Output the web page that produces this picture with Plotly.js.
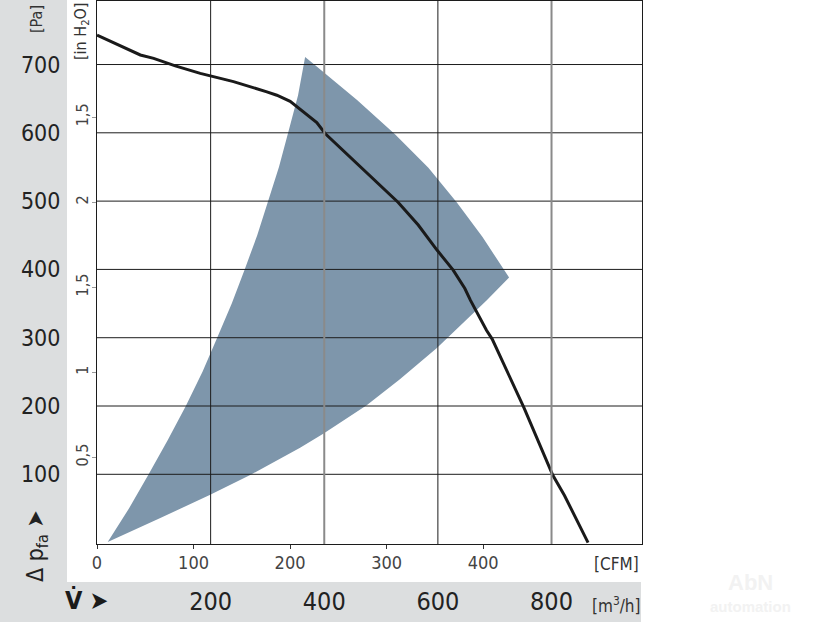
<!DOCTYPE html>
<html><head><meta charset="utf-8">
<script src="https://cdn.plot.ly/plotly-3.0.1.min.js"></script>
<style>html,body{margin:0;padding:0;background:#fff}#chart{width:816px;height:624px}</style>
</head><body><div id="chart"></div>
<script>
// ---- data ----
const curveCFM = [0, 44.9, 58.7, 81.1, 107.0, 141.4, 176.0, 186.3, 200.1, 213.8, 227.7, 236.3, 262.1, 288.0, 312.1, 332.8, 352.4, 369.0, 381.1, 386.8, 403.5, 409.4, 442.5, 472.1, 484.3, 508.7];
const curvePa  = [743, 714, 709, 698, 687, 675, 660, 655, 646, 631, 615, 599, 565, 531, 498, 465, 428, 399, 372, 355, 311, 298, 197, 99, 69, 0];

// operating zone outline: left edge up, upper-right edge down, lower edge back
const zoneCFM = [11.1, 33.1, 53.5, 73.2, 92.0, 109.3, 124.5, 139.6, 153.0, 166.0, 177.3, 188.5, 198.0, 208.3, 215.6,
                 227.0, 269.4, 308.7, 343.3, 372.8, 399.2, 422.0, 426.9,
                 403.8, 375.9, 352.1, 313.8, 279.4, 235.2, 210.4, 158.7, 117.3, 65.6, 11.1];
const zonePa  = [1, 50, 100, 150, 200, 250, 300, 350, 400, 450, 500, 550, 600, 655, 711,
                 698, 648, 598, 549, 498, 448, 399, 388,
                 355, 317, 285, 239, 201, 160, 139, 99, 70, 36, 1];

const paTicks = [100, 200, 300, 400, 500, 600, 700];
const inH2OTicks = [0.5, 1, 1.5, 2, 2.5];
const inH2OLabels = ["0,5", "1", "1,5", "2", "1,5"];
const cfmTicks = [0, 100, 200, 300, 400];
const m3hTicks = [200, 400, 600, 800];
const m3hDarkLines = [200, 600];
const m3hLightLines = [400, 800];

const PA_PER_INH2O = 249.09;
const M3H_PER_CFM = 1.699;
const xRange = [0, 564.6];
const yRange = [-2.05, 793];

// ---- layout helpers ----
const W = 816, H = 624;
const M = {l: 97, r: 174, t: 1, b: 80};
const PW = W - M.l - M.r, PH = H - M.t - M.b;
const px = v => (v - M.l) / PW;
const py = v => (M.t + PH - v) / PH;
const FONT = '"Liberation Sans Narrow", "DejaVu Sans Condensed", "Liberation Sans", Arial, sans-serif';
const GRID = '#1c1c1c';

const traces = [
  {x: zoneCFM, y: zonePa, mode: 'lines', fill: 'toself', fillcolor: '#7e96ab',
   line: {width: 0, color: '#7e96ab'}, hoverinfo: 'skip'},
  {x: curveCFM, y: curvePa, mode: 'lines', line: {color: '#1a1a1a', width: 3}, hoverinfo: 'skip'},
  {x: xRange.map(v => v * M3H_PER_CFM), y: yRange.map(v => v / PA_PER_INH2O), xaxis: 'x2', yaxis: 'y2',
   mode: 'markers', marker: {opacity: 0}, hoverinfo: 'skip'}
];

const shapes = [
  {type: 'rect', xref: 'paper', yref: 'paper', x0: px(0), x1: px(67), y0: py(582), y1: py(0),
   fillcolor: '#dcdedf', line: {width: 0}, layer: 'below'},
  {type: 'rect', xref: 'paper', yref: 'paper', x0: px(0), x1: px(641), y0: py(622), y1: py(582),
   fillcolor: '#dcdedf', line: {width: 0}, layer: 'below'}
];
paTicks.forEach(v => shapes.push({type: 'line', xref: 'paper', yref: 'y', x0: 0, x1: 1, y0: v, y1: v,
  line: {color: GRID, width: 1}, layer: 'above'}));
m3hDarkLines.forEach(v => shapes.push({type: 'line', xref: 'x2', yref: 'paper', x0: v, x1: v, y0: 0, y1: 1,
  line: {color: GRID, width: 1}, layer: 'above'}));
m3hLightLines.forEach(v => shapes.push({type: 'line', xref: 'x2', yref: 'paper', x0: v, x1: v, y0: 0, y1: 1,
  line: {color: '#8a8a8a', width: 2}, layer: 'above'}));

const ann = (text, x, y, size, opts = {}) => Object.assign({
  text, xref: 'paper', yref: 'paper', x: px(x), y: py(y), xanchor: 'center', yanchor: 'middle',
  showarrow: false, font: {family: FONT, size, color: '#333'}}, opts);

const annotations = [
  ann('[Pa]', 36, 19, 16, {textangle: -90}),
  ann('[in H<sub>2</sub>O]', 82, 31, 16, {textangle: -90}),
  ann('Δ p<sub>fa</sub> ➤', 37, 546, 23, {textangle: -90, font: {family: FONT, size: 23, color: '#222'}}),
  ann('<b>V̇</b> ➤', 86, 600, 25, {font: {family: FONT, size: 25, color: '#1a1a1a'}}),
  ann('[CFM]', 616, 564, 17),
  ann('[m<sup>3</sup>/h]', 616, 605, 17),
  ann('<b>AbN</b>', 750, 582, 22, {font: {family: 'Liberation Sans', size: 22, color: '#f2f2f2'}}),
  ann('<b>automation</b>', 750, 606, 15, {font: {family: 'Liberation Sans', size: 15, color: '#f2f2f2'}})
];

const layout = {
  width: W, height: H, margin: M, paper_bgcolor: 'rgba(0,0,0,0)', plot_bgcolor: '#ffffff',
  showlegend: false, font: {family: FONT, color: '#333'},
  xaxis: {range: xRange, tickvals: cfmTicks, ticktext: cfmTicks.map(String), ticks: 'outside', ticklen: 4,
    tickcolor: '#333', showgrid: false, zeroline: false, showline: true, mirror: true,
    linecolor: GRID, linewidth: 1, tickfont: {family: FONT, size: 18, color: '#444'}, ticklabelstandoff: -2},
  xaxis2: {overlaying: 'x', side: 'bottom', range: xRange.map(v => v * M3H_PER_CFM), tickvals: m3hTicks,
    ticktext: m3hTicks.map(String), ticks: '', showgrid: false, zeroline: false, showline: false,
    tickfont: {family: FONT, size: 25, color: '#222'}, ticklabelstandoff: 40},
  yaxis: {range: yRange, tickvals: paTicks, ticktext: paTicks.map(String), ticks: '', showgrid: false,
    zeroline: false, showline: true, mirror: true, linecolor: GRID, linewidth: 1,
    tickfont: {family: FONT, size: 23, color: '#222'}, ticklabelstandoff: 31},
  yaxis2: {overlaying: 'y', side: 'left', range: yRange.map(v => v / PA_PER_INH2O), tickvals: inH2OTicks,
    ticktext: inH2OLabels, tickangle: -90, ticks: 'outside', ticklen: 4, tickcolor: '#999',
    showgrid: false, zeroline: false, showline: false, tickfont: {family: FONT, size: 16, color: '#444'},
    ticklabelstandoff: -2},
  shapes, annotations
};

Plotly.newPlot('chart', traces, layout, {staticPlot: true, displayModeBar: false});
</script></body></html>
